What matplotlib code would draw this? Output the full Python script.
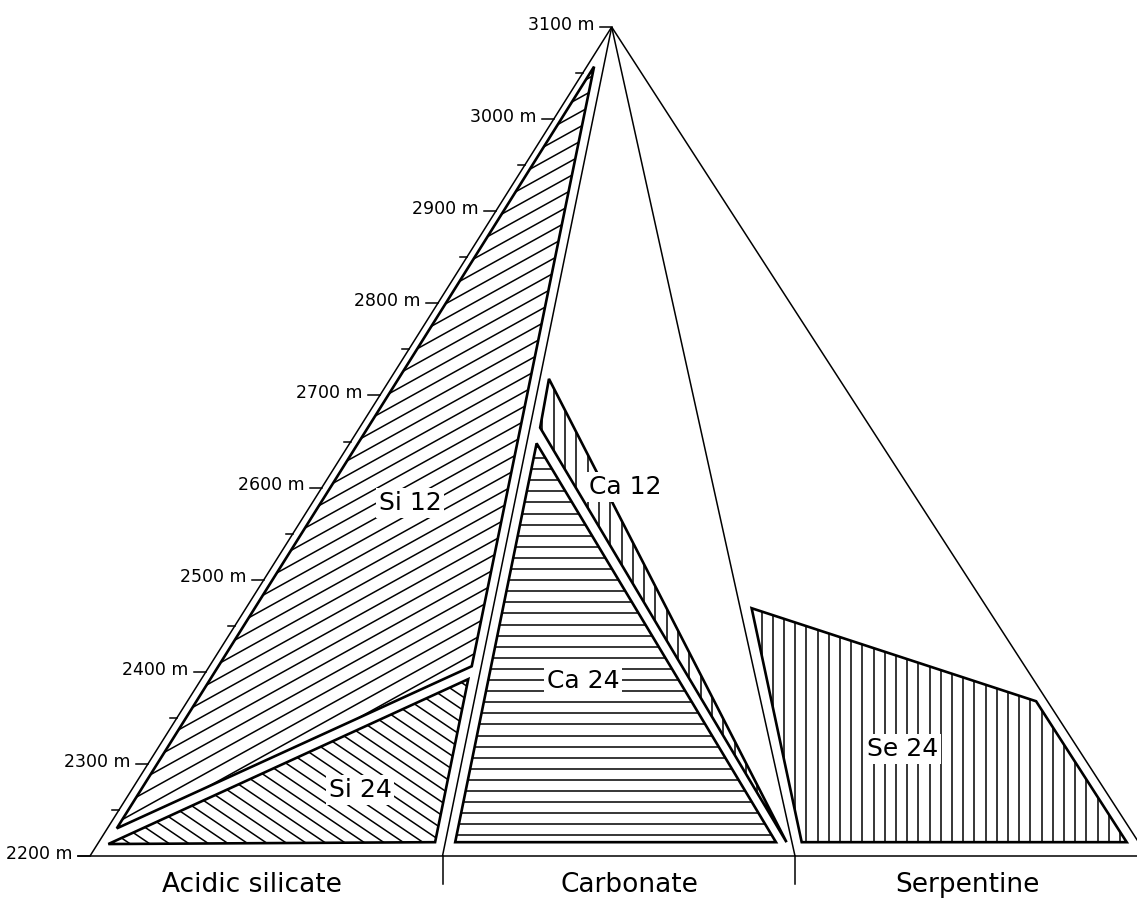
import numpy as np
import matplotlib
matplotlib.use("Agg")
import matplotlib.pyplot as plt
from matplotlib.patches import Polygon
from matplotlib.collections import LineCollection

# substrate columns: x runs 0..3 along the 2200 m base line
substrates = ["Acidic silicate", "Carbonate", "Serpentine"]
base_x = [0, 1, 2, 3]
apex_x = 1.48
alt_top = 3100
alt_base = 2200

major_alts = [2200, 2300, 2400, 2500, 2600, 2700, 2800, 2900, 3000, 3100]
minor_alts = [2250, 2350, 2450, 2550, 2650, 2750, 2850, 2950, 3050]

# vegetation zones: outline vertices (x position, altitude in m)
zone_names = ["Si 12", "Si 24", "Ca 12", "Ca 24", "Se 24"]
si12_x = [1.430, 0.076, 1.083]
si12_alt = [3057, 2230, 2406]
si24_x = [0.052, 1.073, 0.979]
si24_alt = [2213, 2392, 2215]
ca12_x = [1.302, 1.277, 1.976]
ca12_alt = [2718, 2665, 2215]
ca24_x = [1.267, 1.036, 1.946]
ca24_alt = [2648, 2215, 2215]
se24_x = [1.877, 2.684, 2.941, 2.019]
se24_alt = [2469, 2368, 2215, 2215]

zones = {
    "Si 12": (si12_x, si12_alt),
    "Si 24": (si24_x, si24_alt),
    "Ca 12": (ca12_x, ca12_alt),
    "Ca 24": (ca24_x, ca24_alt),
    "Se 24": (se24_x, se24_alt),
}

# hatch style per zone: (angle in deg, spacing in px)
hatch_style = {
    "Si 12": (29, 12.8),
    "Si 24": (-34, 11.0),
    "Ca 12": (90, 11.3),
    "Ca 24": (0, 11.1),
    "Se 24": (90, 11.2),
}
# label anchor per zone (x, altitude)
label_pos = {
    "Si 12": (0.908, 2583),
    "Si 24": (0.766, 2272),
    "Ca 12": (1.518, 2601),
    "Ca 24": (1.399, 2390),
    "Se 24": (2.304, 2316),
}
substrate_label_x = [0.46, 1.53, 2.49]

plt.rcParams["font.family"] = ["DejaVu Sans"]

fig = plt.figure(figsize=(11.37, 9.02), dpi=100)
ax = fig.add_axes([0, 0, 1, 1])
px_x = 352.5          # pixels per substrate unit
px_m = 829 / 900      # pixels per metre
ax.set_xlim(-90 / px_x, (1137 - 90) / px_x)
ax.set_ylim(alt_top - 875 / px_m, alt_top + 27 / px_m)
ax.axis("off")

thin = 1.1
thick = 1.9


def edge_x(k, alt):
    return base_x[k] + (apex_x - base_x[k]) * (alt - alt_base) / (alt_top - alt_base)


# sector boundary lines to the apex
for k in range(4):
    ax.plot([base_x[k], apex_x], [alt_base, alt_top], color="black", lw=thin,
            solid_capstyle="butt")

# base line and column separators
tick_major = 12 / px_x
tick_minor = 7 / px_x
ax.plot([edge_x(0, alt_base) - tick_major, 3.2], [alt_base, alt_base], color="black", lw=thin)
for k in [1, 2]:
    ax.plot([base_x[k], base_x[k]], [alt_base, alt_base - 28 / px_m], color="black", lw=thin)

# altitude ticks along the left edge
for a in major_alts:
    xe = edge_x(0, a)
    ax.plot([xe - tick_major, xe], [a, a], color="black", lw=thin)
    ax.annotate(f"{a} m", xy=(xe - tick_major, a), xytext=(-4, -2),
                textcoords="offset points", ha="right", va="baseline", fontsize=12.5)
for a in minor_alts:
    xe = edge_x(0, a)
    ax.plot([xe - tick_minor, xe], [a, a], color="black", lw=thin)

# zones with hatching
inv = ax.transData.inverted()
for name in zone_names:
    xs, alts = zones[name]
    xy = np.column_stack([xs, alts])
    clip = Polygon(xy, closed=True, facecolor="none", edgecolor="none")
    ax.add_patch(clip)
    angle, spacing = hatch_style[name]
    disp = ax.transData.transform(xy)
    th = np.deg2rad(angle)
    d = np.array([np.cos(th), np.sin(th)])
    n = np.array([-np.sin(th), np.cos(th)])
    proj = disp @ n
    along = disp @ d
    offs = np.arange(np.floor(proj.min() / spacing) * spacing, proj.max() + spacing, spacing)
    segs = []
    for o in offs:
        p0 = n * o + d * (along.min() - 20)
        p1 = n * o + d * (along.max() + 20)
        segs.append(inv.transform(np.array([p0, p1])))
    lc = LineCollection(segs, colors="black", linewidths=1.1)
    ax.add_collection(lc)
    lc.set_clip_path(clip)
    ax.add_patch(Polygon(xy, closed=True, facecolor="none", edgecolor="black",
                         lw=thick, joinstyle="miter", zorder=3))
    lx, la = label_pos[name]
    ax.text(lx, la, name, ha="center", va="center", fontsize=18, zorder=4,
            bbox=dict(boxstyle="square,pad=0.12", facecolor="white", edgecolor="none"))

# substrate names under the base line
for name, x in zip(substrates, substrate_label_x):
    ax.text(x, alt_base - 29 / px_m, name, ha="center", va="center", fontsize=19)

fig.savefig("out.png", dpi=100, facecolor="white")
